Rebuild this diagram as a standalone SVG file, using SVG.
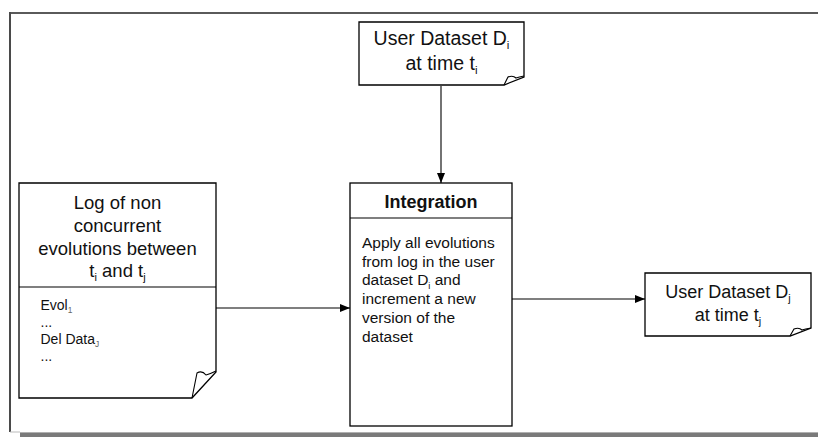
<svg xmlns="http://www.w3.org/2000/svg" width="818" height="437" viewBox="0 0 818 437">
<defs>
<marker id="arr" markerWidth="10" markerHeight="8" refX="10" refY="4" orient="auto" markerUnits="userSpaceOnUse">
<path d="M0,0 L10,4 L0,8 Z" fill="#000"/>
</marker>
<style>
.shape{fill:#fff;stroke:#000;stroke-width:1.3}
.fold{fill:none;stroke:#000;stroke-width:1.1}
.t{font-family:"Liberation Sans",Arial,sans-serif;fill:#111}
.hd{font-size:18.5px;text-anchor:middle}
.body{font-size:15.5px}
.small{font-size:14px}
.sub{font-size:60%}
.conn{stroke:#000;stroke-width:1.1;fill:none}
</style>
</defs>
<rect width="818" height="437" fill="#fff"/>
<g id="frame">
<line x1="10" y1="13" x2="818" y2="13" stroke="#5a5a5a" stroke-width="2"/>
<line x1="10" y1="12" x2="10" y2="432" stroke="#4a4a4a" stroke-width="2"/>
<line x1="10" y1="432" x2="20" y2="432" stroke="#bbb" stroke-width="1"/>
<rect x="20" y="433" width="798" height="4" fill="#7a7a7a"/>
<line x1="20" y1="432.5" x2="818" y2="432.5" stroke="#b0b0b0" stroke-width="1"/>
</g>
<g id="connectors">
<line class="conn" x1="441" y1="86" x2="441" y2="183" marker-end="url(#arr)"/>
<line class="conn" x1="216" y1="308" x2="350" y2="308" marker-end="url(#arr)"/>
<line class="conn" x1="512" y1="299" x2="645" y2="299" marker-end="url(#arr)"/>
</g>
<g id="userDatasetI">
<path class="shape" d="M359,22 H524 V77 L504,85 H359 Z"/>
<path class="fold" d="M504,85 L508,77 Q513,75 516,78 Q519,77 524,76"/>
<text class="t hd" style="font-size:19.5px" x="441.5" y="45">User Dataset D<tspan class="sub" dy="4">i</tspan></text>
<text class="t hd" style="font-size:19.5px" x="441.5" y="70">at time t<tspan class="sub" dy="4">i</tspan></text>
</g>
<g id="log">
<path class="shape" d="M19,183 H216 V372 L192,398 H19 Z"/>
<line x1="19" y1="287" x2="216" y2="287" stroke="#000" stroke-width="1.1"/>
<path class="fold" d="M192,398 L197,373 Q202,370 206,375 Q210,374 216,371"/>
<text class="t hd" x="117.5" y="209">Log of non</text>
<text class="t hd" x="117.5" y="232">concurrent</text>
<text class="t hd" x="117.5" y="255">evolutions between</text>
<text class="t hd" x="117.5" y="277">t<tspan class="sub" dy="4">i</tspan><tspan dy="-4"> and t</tspan><tspan class="sub" dy="4">j</tspan></text>
<text class="t small" x="40.5" y="310">Evol<tspan class="sub" dy="3" fill="#666">1</tspan></text>
<text class="t small" x="40.5" y="327">...</text>
<text class="t small" x="40.5" y="344">Del Data<tspan class="sub" dy="3" fill="#666">J</tspan></text>
<text class="t small" x="40.5" y="361">...</text>
</g>
<g id="integration">
<rect class="shape" x="350" y="183" width="162" height="243"/>
<line x1="350" y1="218" x2="512" y2="218" stroke="#000" stroke-width="1.1"/>
<text class="t" x="431" y="208" style="font-size:18px;font-weight:bold;text-anchor:middle">Integration</text>
<text class="t body" x="362" y="248">Apply all evolutions</text>
<text class="t body" x="362" y="267">from log in the user</text>
<text class="t body" x="362" y="285">dataset D<tspan class="sub" dy="4">i</tspan><tspan dy="-4"> and</tspan></text>
<text class="t body" x="362" y="304">increment a new</text>
<text class="t body" x="362" y="323">version of the</text>
<text class="t body" x="362" y="342">dataset</text>
</g>
<g id="userDatasetJ">
<path class="shape" d="M645,273 H811 V328 L790,336 H645 Z"/>
<path class="fold" d="M790,336 L794,329 Q799,327 802,330 Q805,329 811,328"/>
<text class="t hd" style="font-size:18px" x="728" y="298">User Dataset D<tspan class="sub" dy="4">j</tspan></text>
<text class="t hd" style="font-size:18px" x="728" y="321">at time t<tspan class="sub" dy="4">j</tspan></text>
</g>
</svg>
